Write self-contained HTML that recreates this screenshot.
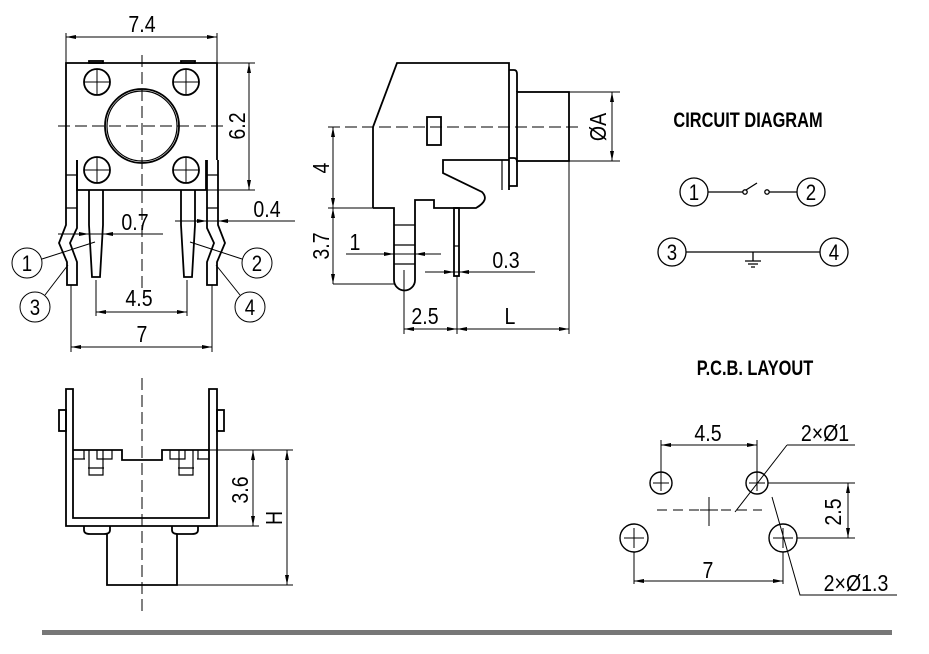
<!DOCTYPE html>
<html><head><meta charset="utf-8"><style>
html,body{margin:0;padding:0;background:#fff;}
svg{display:block;}
text{font-family:"Liberation Sans",sans-serif;fill:#000;}
</style></head><body>
<svg width="929" height="654" viewBox="0 0 929 654" xmlns="http://www.w3.org/2000/svg">
<defs>
<marker id="a" markerWidth="10" markerHeight="6" refX="10" refY="3" orient="auto-start-reverse" markerUnits="userSpaceOnUse"><path d="M0,1 L10,3 L0,5z" fill="#000"/></marker>
</defs>
<g fill="none" stroke="#000" stroke-width="1.8">
<path d="M66,160 L66,63 L217,63 L217,160"/>
<path d="M77,160 L77,190 L206,190 L206,160"/>
<rect x="89" y="61" width="14" height="2"/><rect x="181" y="61" width="14" height="2"/>
<circle cx="97" cy="82" r="13"/><circle cx="186" cy="82" r="13"/>
<circle cx="97" cy="170" r="13"/><circle cx="186" cy="170" r="13"/>
<circle cx="142" cy="126" r="37"/><circle cx="142" cy="126" r="35" stroke-width="1.2"/>
<path d="M66,160 L66,225 L59,243 L67,262 L67,285 L77,285 L77,262 L70,243 L77,228 L77,160" />
<path d="M218,160 L218,225 L225,243 L217,262 L217,285 L207,285 L207,262 L214,243 L207,228 L207,160" />
<path d="M66,175 H77 M66,208 H77 M207,175 H218 M207,208 H218" stroke-width="1.2"/>
<path d="M89,190 L89,225 L92,277 L100,277 L103,225 L103,190"/>
<path d="M181,190 L181,225 L184,277 L192,277 L195,225 L195,190"/>
<g stroke-width="1"><path d="M84,82H110M97,69V95M173,82H199M186,69V95M84,170H110M97,157V183M173,170H199M186,157V183"/></g>
</g>
<g fill="none" stroke="#000" stroke-width="1">
<path d="M58,126 H225" stroke-dasharray="12,5"/>
<path d="M142,55 V290" stroke-dasharray="12,5"/>
<path d="M66,33 V63 M217,33 V63"/>
<path d="M66,37 H217" marker-start="url(#a)" marker-end="url(#a)"/>
<path d="M217,63 H255 M206,190 H255"/>
<path d="M249,63 V190" marker-start="url(#a)" marker-end="url(#a)"/>
<path d="M58,234 H163"/><path d="M77,234 L89,234" marker-end="url(#a)"/><path d="M115,234 L103,234" marker-end="url(#a)"/>
<path d="M175,221 H295"/><path d="M195,221 L207,221" marker-end="url(#a)"/><path d="M230,221 L218,221" marker-end="url(#a)"/>
<path d="M96,280 V316 M187,280 V316"/>
<path d="M96,312 H187" marker-start="url(#a)" marker-end="url(#a)"/>
<path d="M71,285 V352 M212,285 V352"/>
<path d="M71,347 H212" marker-start="url(#a)" marker-end="url(#a)"/>
<circle cx="27" cy="263" r="15"/><circle cx="257" cy="263" r="15"/>
<circle cx="35" cy="307" r="15"/><circle cx="250" cy="307" r="15"/>
<path d="M42,259 L95,242"/><path d="M242,259 L190,242"/>
<path d="M45,295 L68,265"/><path d="M240,295 L216,265"/>
</g>
<g font-size="23" text-anchor="middle">
<text transform="translate(142,32) scale(0.85,1)">7.4</text>
<text transform="translate(135,230) scale(0.85,1)">0.7</text>
<text transform="translate(267,217) scale(0.85,1)">0.4</text>
<text transform="translate(139,306) scale(0.85,1)">4.5</text>
<text transform="translate(142,342) scale(0.85,1)">7</text>
<text transform="translate(245,126) rotate(-90) scale(0.85,1)">6.2</text>
</g>
<g font-size="22" text-anchor="middle">
<text transform="translate(27,271) scale(0.85,1)">1</text><text transform="translate(257,271) scale(0.85,1)">2</text><text transform="translate(35,315) scale(0.85,1)">3</text><text transform="translate(250,315) scale(0.85,1)">4</text>
</g>

<!-- SIDE VIEW -->
<g fill="none" stroke="#000" stroke-width="1.8">
<path d="M373,208 L373,127 L397,63 L509,63 L509,190"/>
<path d="M373,208 H394 V280 A10,10 0 0 0 415,280 V200 H434 V208 H476 Q490,200 482,192 L443,173 V160 H509"/>
<path d="M509,70 H514 Q517,70 517,74 V92 M517,161 V186 H509" />
<path d="M509,158 H514 Q517,158 517,162"/>
<path d="M502,160 V190" stroke-width="1.2"/>
<rect x="517" y="92" width="52" height="69"/>
<rect x="427" y="117" width="14" height="28"/>
<rect x="454" y="208" width="5" height="68"/>
<path d="M394,225 H415 M394,245 H415 M394,264 H415" stroke-width="1.2"/>
<path d="M454,246 H459" stroke-width="1.2"/>
</g>
<g fill="none" stroke="#000" stroke-width="1">
<path d="M328,127 H580" stroke-dasharray="12,5"/>
<path d="M328,208 H373 M333,284 H394"/>
<path d="M333,127 V208" marker-start="url(#a)" marker-end="url(#a)"/>
<path d="M333,208 V284" marker-start="url(#a)" marker-end="url(#a)"/>
<path d="M346,254 H441"/><path d="M380,254 L394,254" marker-end="url(#a)"/><path d="M430,254 L415,254" marker-end="url(#a)"/>
<path d="M425,272 H535"/><path d="M440,272 L454,272" marker-end="url(#a)"/><path d="M473,272 L459,272" marker-end="url(#a)"/>
<path d="M404,270 V334 M457,276 V334 M569,161 V334"/>
<path d="M404,329 H457" marker-start="url(#a)" marker-end="url(#a)"/>
<path d="M457,329 H569" marker-start="url(#a)" marker-end="url(#a)"/>
<path d="M569,92 H620 M569,161 H620"/>
<path d="M612,92 V161" marker-start="url(#a)" marker-end="url(#a)"/>
</g>
<g font-size="23" text-anchor="middle">
<text transform="translate(329,168) rotate(-90) scale(0.85,1)">4</text>
<text transform="translate(329,246) rotate(-90) scale(0.85,1)">3.7</text>
<text transform="translate(355,250) scale(0.85,1)">1</text>
<text transform="translate(506,268) scale(0.85,1)">0.3</text>
<text transform="translate(425,324) scale(0.85,1)">2.5</text>
<text transform="translate(510,324) scale(0.85,1)">L</text>
<text transform="translate(606,127) rotate(-90) scale(0.85,1)">ØA</text>
</g>

<!-- BOTTOM VIEW -->
<g fill="none" stroke="#000" stroke-width="1.8">
<path d="M66,389 H73 V518 H209 V389 H217 V526 H66 Z"/>
<rect x="59" y="410" width="7" height="21"/><rect x="217" y="410" width="7" height="21"/>
<path d="M73,450 H122 V460 H162 V450 H209"/>
<path d="M73,459 H85 M84,450 V459 M89,450 V475 H103 V450 M97,450 V459 H112 V450 M88,468 H104" stroke-width="1.2"/>
<path d="M209,459 H197 M198,450 V459 M193,450 V475 H179 V450 M185,450 V459 H170 V450 M178,468 H194" stroke-width="1.2"/>
<path d="M84,526 V530 Q84,534 90,534 H104 Q110,534 110,530 V526"/>
<path d="M172,526 V530 Q172,534 178,534 H192 Q198,534 198,530 V526"/>
<path d="M107,534 V585 H177 V534"/>
</g>
<g fill="none" stroke="#000" stroke-width="1">
<path d="M142,378 V612" stroke-dasharray="12,5"/>
<path d="M209,450 H293 M217,526 H259 M177,585 H293"/>
<path d="M253,450 V526" marker-start="url(#a)" marker-end="url(#a)"/>
<path d="M287,450 V585" marker-start="url(#a)" marker-end="url(#a)"/>
</g>
<g font-size="23" text-anchor="middle">
<text transform="translate(248,490) rotate(-90) scale(0.85,1)">3.6</text>
<text transform="translate(282,518) rotate(-90) scale(0.85,1)">H</text>
</g>

<!-- CIRCUIT -->
<text transform="translate(748,127) scale(0.78,1)" font-size="21" font-weight="bold" text-anchor="middle">CIRCUIT DIAGRAM</text>
<g fill="none" stroke="#000" stroke-width="1.3">
<circle cx="694" cy="192" r="14"/><circle cx="811" cy="192" r="14"/>
<path d="M708,192 H743 M769,192 H797"/>
<circle cx="745" cy="192" r="2.2"/><circle cx="767" cy="192" r="2.2"/>
<path d="M746,190 L757,183"/>
<circle cx="672" cy="252" r="14"/><circle cx="834" cy="252" r="14"/>
<path d="M686,252 H820 M753,252 V261 M745,261 H761 M748,264 H758 M751,267 H755"/>
</g>
<g font-size="22" text-anchor="middle">
<text transform="translate(694,200) scale(0.85,1)">1</text><text transform="translate(811,200) scale(0.85,1)">2</text><text transform="translate(672,260) scale(0.85,1)">3</text><text transform="translate(834,260) scale(0.85,1)">4</text>
</g>

<!-- PCB -->
<text transform="translate(755,375) scale(0.78,1)" font-size="21" font-weight="bold" text-anchor="middle">P.C.B. LAYOUT</text>
<g fill="none" stroke="#000" stroke-width="1.4">
<circle cx="661" cy="483" r="11"/><circle cx="757" cy="483" r="11"/>
<circle cx="634" cy="538" r="14"/><circle cx="783" cy="538" r="14"/>
</g>
<g fill="none" stroke="#000" stroke-width="1">
<path d="M653,483 H669 M661,475 V491 M749,483 H765 M757,475 V491 M624,538 H644 M634,528 V548 M773,538 H793 M783,528 V548"/>
<path d="M657,510 H762" stroke-dasharray="10,6"/>
<path d="M700,510 H718 M709,497 V526"/>
<path d="M661,440 V483 M757,440 V483"/>
<path d="M661,445 H757" marker-start="url(#a)" marker-end="url(#a)"/>
<path d="M787,445 H855 M787,445 L735,512"/>
<path d="M768,483 H855 M797,538 H855"/>
<path d="M848,483 V538" marker-start="url(#a)" marker-end="url(#a)"/>
<path d="M634,552 V584 M783,552 V584"/>
<path d="M634,581 H783" marker-start="url(#a)" marker-end="url(#a)"/>
<path d="M772,497 L800,595 H897"/>
</g>
<g font-size="23" text-anchor="middle">
<text transform="translate(708,441) scale(0.85,1)">4.5</text>
<text transform="translate(825,441) scale(0.85,1)">2×Ø1</text>
<text transform="translate(841,512) rotate(-90) scale(0.85,1)">2.5</text>
<text transform="translate(708,578) scale(0.85,1)">7</text>
<text transform="translate(856,591) scale(0.85,1)">2×Ø1.3</text>
</g>
<rect x="42" y="630" width="850" height="5" fill="#777"/>
</svg>
</body></html>
